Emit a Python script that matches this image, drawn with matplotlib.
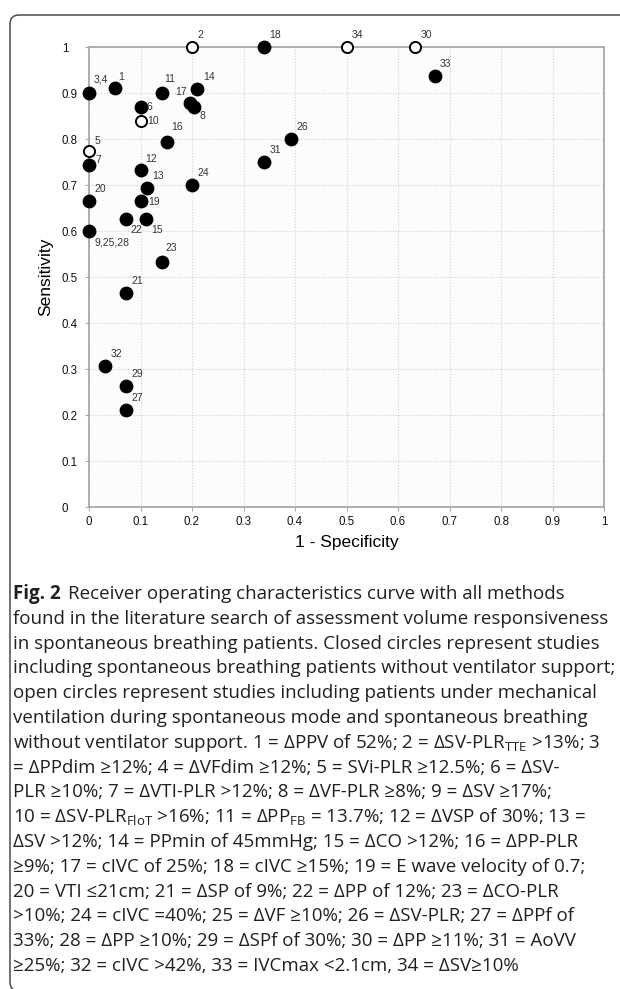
import matplotlib
matplotlib.use('Agg')
import matplotlib.pyplot as plt
from matplotlib.patches import FancyBboxPatch
from matplotlib.transforms import IdentityTransform

# study labels, 1 - specificity, sensitivity, open circle (mechanical ventilation in spontaneous mode)
labels = ['1', '2', '3,4', '5', '6', '7', '8', '9,25,28', '10', '11', '12', '13', '14', '15',
          '16', '17', '18', '19', '20', '21', '22', '23', '24', '26', '27', '29', '30', '31',
          '32', '33', '34']
fpr = [0.05, 0.20, 0.00, 0.00, 0.10, 0.00, 0.203, 0.00, 0.10, 0.141, 0.10, 0.112, 0.21, 0.11,
       0.151, 0.196, 0.34, 0.10, 0.00, 0.071, 0.071, 0.141, 0.20, 0.392, 0.071, 0.071, 0.633, 0.34,
       0.031, 0.671, 0.50]
sens = [0.91, 1.00, 0.90, 0.775, 0.87, 0.743, 0.87, 0.60, 0.84, 0.90, 0.733, 0.694, 0.908, 0.626,
        0.794, 0.878, 1.00, 0.666, 0.666, 0.4645, 0.626, 0.532, 0.70, 0.80, 0.211, 0.264, 1.00, 0.751,
        0.307, 0.938, 1.00]
is_open = ['2', '5', '10', '30', '34']

x_ticks = [0, 0.1, 0.2, 0.3, 0.4, 0.5, 0.6, 0.7, 0.8, 0.9, 1]
x_ticklabels = ['0', '0.1', '0.2', '0.3', '0.4', '0.5', '0.6', '0.7', '0.8', '0.9', '1']

caption = [
    'found in the literature search of assessment volume responsiveness',
    'in spontaneous breathing patients. Closed circles represent studies',
    'including spontaneous breathing patients without ventilator support;',
    'open circles represent studies including patients under mechanical',
    'ventilation during spontaneous mode and spontaneous breathing',
    r'without ventilator support. 1 = ΔPPV of 52%; 2 = ΔSV-PLR$_{\mathrm{TTE}}$ >13%; 3',
    '= ΔPPdim ≥12%; 4 = ΔVFdim ≥12%; 5 = SVi-PLR ≥12.5%; 6 = ΔSV-',
    'PLR ≥10%; 7 = ΔVTI-PLR >12%; 8 = ΔVF-PLR ≥8%; 9 = ΔSV ≥17%;',
    r'10 = ΔSV-PLR$_{\mathrm{FloT}}$ >16%; 11 = ΔPP$_{\mathrm{FB}}$ = 13.7%; 12 = ΔVSP of 30%; 13 =',
    'ΔSV >12%; 14 = PPmin of 45mmHg; 15 = ΔCO >12%; 16 = ΔPP-PLR',
    '≥9%; 17 = cIVC of 25%; 18 = cIVC ≥15%; 19 = E wave velocity of 0.7;',
    '20 = VTI ≤21cm; 21 = ΔSP of 9%; 22 = ΔPP of 12%; 23 = ΔCO-PLR',
    '>10%; 24 = cIVC =40%; 25 = ΔVF ≥10%; 26 = ΔSV-PLR; 27 = ΔPPf of',
    '33%; 28 = ΔPP ≥10%; 29 = ΔSPf of 30%; 30 = ΔPP ≥11%; 31 = AoVV',
    '≥25%; 32 = cIVC >42%, 33 = IVCmax <2.1cm, 34 = ΔSV≥10%',
]

# label offsets in points (dx, dy, ha, va), default is up-right
offsets = {
    '1': (2.5, 4.5, 'left', 'bottom'), '3,4': (3, 6, 'left', 'bottom'),
    '5': (4, 3, 'left', 'bottom'), '6': (4.5, 0, 'left', 'center'),
    '7': (4.5, 0, 'left', 'bottom'), '8': (4.5, -3, 'left', 'top'),
    '9,25,28': (4, -4.5, 'left', 'top'), '10': (4.5, 0, 'left', 'center'),
    '11': (2, 6.5, 'left', 'bottom'), '16': (3.5, 7, 'left', 'bottom'),
    '17': (-2.5, 4.5, 'right', 'bottom'), '19': (5.5, -1, 'left', 'center'),
    '15': (4, -4.5, 'left', 'top'), '22': (3.5, -4.5, 'left', 'top'),
    '23': (2.5, 6.5, 'left', 'bottom'), '12': (3.5, 4, 'left', 'bottom'),
}

plt.rcParams['font.family'] = ['Liberation Sans', 'DejaVu Sans']
plt.rcParams['mathtext.fontset'] = 'custom'
plt.rcParams['mathtext.rm'] = 'Open Sans'

fig = plt.figure(figsize=(6.2, 9.89), dpi=100)

# frame around the figure panel
frame = FancyBboxPatch((10, -2), 700, 976, boxstyle='round,pad=0,rounding_size=9',
                       transform=IdentityTransform(), facecolor='none', edgecolor='#4a4a4a',
                       linewidth=1.1)
fig.patches.append(frame)

ax = fig.add_axes([89 / 620, 1 - 507 / 989, 515 / 620, 460 / 989])
ax.set_facecolor('#fcfcfc')

for i in range(len(labels)):
    if labels[i] in is_open:
        ax.scatter(fpr[i], sens[i], s=64, facecolor='white', edgecolor='black',
                   linewidth=1.4, zorder=4, clip_on=False)
    else:
        ax.scatter(fpr[i], sens[i], s=80, color='black', zorder=4, clip_on=False)
    dx, dy, ha, va = offsets.get(labels[i], (4, 5, 'left', 'bottom'))
    ax.annotate(labels[i], (fpr[i], sens[i]), xytext=(dx, dy), textcoords='offset points',
                ha=ha, va=va, fontsize=7.5, color='#333333', zorder=5)

ax.set_xlim(0, 1)
ax.set_ylim(0, 1)
ax.set_xticks(x_ticks)
ax.set_xticklabels(x_ticklabels)
ax.set_yticks(x_ticks)
ax.set_yticklabels(x_ticklabels)
ax.grid(True, linestyle=':', color='#cfcfcf', linewidth=0.8)
ax.set_axisbelow(True)
for side in ['left', 'bottom', 'top', 'right']:
    ax.spines[side].set_color('#a8a8a8')
    ax.spines[side].set_linewidth(1.3)
ax.tick_params(axis='both', length=3, color='#a8a8a8', labelsize=8.3, labelcolor='#111111')
ax.tick_params(axis='y', pad=16.5)
for lab in ax.get_yticklabels():
    lab.set_horizontalalignment('left')

ax.set_xlabel('1 - Specificity', fontsize=12.5, labelpad=5)
ax.set_ylabel('Sensitivity', fontsize=12.5, labelpad=6)

# caption
y0 = 1 - 594 / 989
step = 24.8 / 989
cap_font = ['Open Sans', 'DejaVu Sans']
cap_size = 13.5
fig_lbl = fig.text(13 / 620, y0, 'Fig. 2', fontsize=cap_size, fontweight='bold', family=cap_font,
                   color='#231f20', va='center')
ax.annotate('Receiver operating characteristics curve with all methods', xy=(1, 0.5),
            xycoords=fig_lbl, xytext=(5, 0), textcoords='offset points', va='center',
            fontsize=cap_size, family=cap_font, color='#231f20', annotation_clip=False)
for k in range(len(caption)):
    fig.text(13 / 620, y0 - (k + 1) * step, caption[k], fontsize=cap_size, family=cap_font,
             color='#231f20', va='center')

fig.savefig('out.png', dpi=100)
